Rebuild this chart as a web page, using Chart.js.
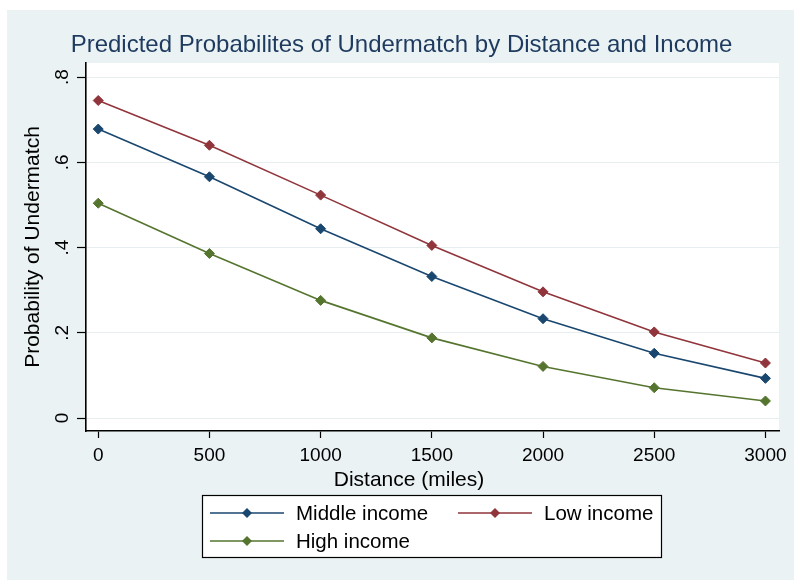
<!DOCTYPE html>
<html lang="en">
<head>
<meta charset="UTF-8">
<title>Predicted Probabilites of Undermatch</title>
<script src="https://cdn.jsdelivr.net/npm/chart.js"></script>
<style>
  html, body { margin: 0; padding: 0; background: #fff; }
  canvas { display: block; }
</style>
</head>
<body>
<canvas id="myChart" width="794" height="580"></canvas>
<script>
  // Predicted probability of undermatch at each distance, one array per income group
  const distance = [0, 500, 1000, 1500, 2000, 2500, 3000];
  const middleIncome = [0.678, 0.566, 0.444, 0.332, 0.233, 0.152, 0.093];
  const lowIncome = [0.745, 0.640, 0.523, 0.405, 0.296, 0.202, 0.129];
  const highIncome = [0.504, 0.386, 0.276, 0.188, 0.121, 0.071, 0.040];

  const xTicks = [0, 500, 1000, 1500, 2000, 2500, 3000];
  const yTicks = [0, 0.2, 0.4, 0.6, 0.8];
  const yTickLabels = ['0', '.2', '.4', '.6', '.8'];

  const FONT = '"Liberation Sans", Arial, sans-serif';
  Chart.defaults.font.family = FONT;
  Chart.defaults.color = '#000';

  const toPoints = ys => distance.map((d, i) => ({ x: d, y: ys[i] }));

  const series = (label, values, color) => ({
    label: label,
    data: toPoints(values),
    borderColor: color,
    backgroundColor: color,
    borderWidth: 1.6,
    pointStyle: 'rectRot',
    pointRadius: 5,
    pointBorderWidth: 1,
    tension: 0
  });

  // Background panels, x-axis title and the boxed legend
  const stataFrame = {
    id: 'stataFrame',
    beforeDraw(chart) {
      const { ctx, chartArea: a } = chart;
      ctx.save();
      ctx.fillStyle = '#fff';
      ctx.fillRect(0, 0, chart.width, chart.height);
      ctx.fillStyle = '#eaf2f3';
      ctx.fillRect(7, 10, chart.width - 7, chart.height - 10);
      ctx.fillStyle = '#fff';
      ctx.fillRect(a.left, a.top, a.right - a.left, a.bottom - a.top);
      ctx.restore();
    },
    afterDraw(chart) {
      const ctx = chart.ctx;
      ctx.save();

      ctx.fillStyle = '#000';
      ctx.font = '21px ' + FONT;
      ctx.textAlign = 'center';
      ctx.textBaseline = 'middle';
      ctx.fillText('Distance (miles)', 409, 480);

      // legend box
      ctx.fillStyle = '#fff';
      ctx.fillRect(202, 495, 460, 63);
      ctx.strokeStyle = '#000';
      ctx.lineWidth = 1.2;
      ctx.strokeRect(202.5, 495.5, 459, 62);

      const slots = [[210, 513], [458, 513], [210, 541]];
      ctx.font = '20.5px ' + FONT;
      ctx.textAlign = 'left';
      chart.data.datasets.forEach((ds, i) => {
        const [x, y] = slots[i];
        ctx.strokeStyle = ds.borderColor;
        ctx.lineWidth = 1.6;
        ctx.beginPath();
        ctx.moveTo(x, y);
        ctx.lineTo(x + 74, y);
        ctx.stroke();
        const cx = x + 37, r = 5;
        ctx.fillStyle = ds.backgroundColor;
        ctx.beginPath();
        ctx.moveTo(cx - r, y);
        ctx.lineTo(cx, y - r);
        ctx.lineTo(cx + r, y);
        ctx.lineTo(cx, y + r);
        ctx.closePath();
        ctx.fill();
        ctx.fillStyle = '#000';
        ctx.fillText(ds.label, x + 86, y + 1);
      });
      ctx.restore();
    }
  };

  const config = {
    type: 'line',
    data: {
      datasets: [
        series('Middle income', middleIncome, '#1a476f'),
        series('Low income', lowIncome, '#90353b'),
        series('High income', highIncome, '#55752f')
      ]
    },
    options: {
      responsive: false,
      animation: false,
      devicePixelRatio: 1,
      layout: { padding: { left: 24, right: 15, top: 0, bottom: 0 } },
      plugins: {
        legend: { display: false },
        tooltip: { enabled: false },
        title: {
          display: true,
          text: 'Predicted Probabilites of Undermatch by Distance and Income',
          color: '#1e3a5f',
          font: { size: 24, weight: 'normal', family: FONT },
          padding: { top: 30.6, bottom: 3.6 }
        }
      },
      scales: {
        x: {
          type: 'linear',
          min: -55,
          max: 3061,
          afterBuildTicks: s => { s.ticks = xTicks.map(v => ({ value: v })); },
          afterFit: s => { s.height = 149; },
          ticks: {
            font: { size: 19 },
            padding: 6,
            maxRotation: 0,
            callback: v => String(v)
          },
          grid: {
            drawOnChartArea: false,
            drawTicks: true,
            tickLength: 7,
            tickColor: '#000',
            tickWidth: 1.2
          },
          border: { color: '#000', width: 1.6 }
        },
        y: {
          min: -0.0305,
          max: 0.833,
          afterBuildTicks: s => { s.ticks = yTicks.map(v => ({ value: v })); },
          afterFit: s => { s.width = 62; },
          ticks: {
            font: { size: 19 },
            padding: 6,
            minRotation: 90,
            maxRotation: 90,
            crossAlign: 'center',
            callback: v => yTickLabels[yTicks.indexOf(v)] ?? ''
          },
          grid: {
            color: '#e6eef0',
            lineWidth: 1,
            tickLength: 9,
            tickColor: '#000',
            tickWidth: 1.2
          },
          border: { color: '#000', width: 1.6 },
          title: {
            display: true,
            text: 'Probability of Undermatch',
            font: { size: 21, lineHeight: 0.86 },
            padding: 0
          }
        }
      }
    },
    plugins: [stataFrame]
  };

  const myChart = new Chart(document.getElementById('myChart'), config);
</script>
</body>
</html>
